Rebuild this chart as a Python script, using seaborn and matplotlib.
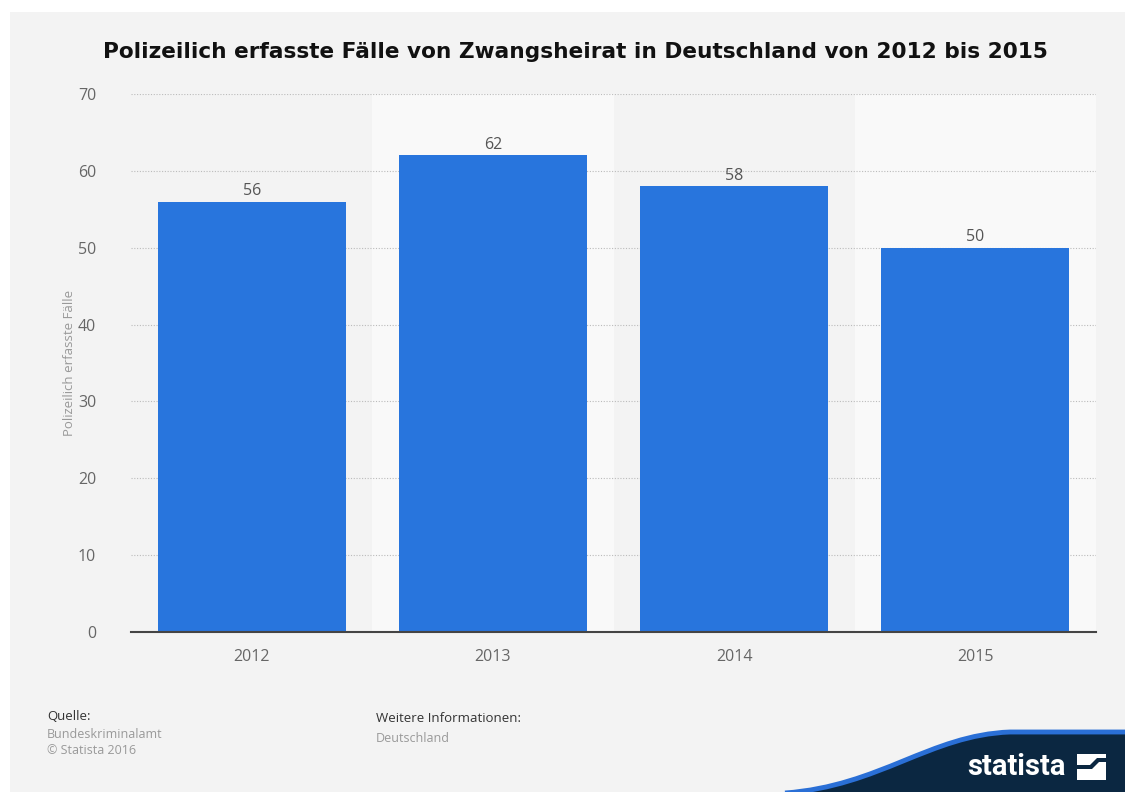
import numpy as np
import pandas as pd
import matplotlib.pyplot as plt
import seaborn as sns
from matplotlib.patches import Rectangle, PathPatch, Polygon
from matplotlib.path import Path

# Data
years = ["2012", "2013", "2014", "2015"]
cases = [56, 62, 58, 50]
y_ticks = [0, 10, 20, 30, 40, 50, 60, 70]

df = pd.DataFrame({"Jahr": years, "Faelle": cases})

W, H = 1125, 792
sns.set_style("white")
plt.rcParams["font.family"] = ["Open Sans", "DejaVu Sans"]

fig = plt.figure(figsize=(W / 100, H / 100), dpi=100, facecolor="white")

# gray canvas behind the chart
fig.patches.append(Rectangle((10 / W, 0), 1, 1 - 12 / H, transform=fig.transFigure,
                             facecolor="#f3f3f3", edgecolor="none", zorder=-1))

ax = fig.add_axes([131 / W, 1 - 632 / H, (1096 - 131) / W, (632 - 94) / H])
ax.set_zorder(1)
ax.set_facecolor("none")

# alternating column bands
for i in range(len(years)):
    ax.axvspan(i - 0.5, i + 0.5, color="#f3f3f3" if i % 2 == 0 else "#f9f9f9",
               zorder=0, lw=0)

sns.barplot(data=df, x="Jahr", y="Faelle", color="#2875dd", width=0.78,
            saturation=1, linewidth=0, ax=ax, zorder=3)

for i, v in enumerate(cases):
    ax.text(i, v + 0.35, str(v), ha="center", va="bottom", fontsize=11.5,
            color="#555555", zorder=4)

ax.set_xlim(-0.5, len(years) - 0.5)
ax.set_ylim(0, 70)
ax.set_yticks(y_ticks)
ax.yaxis.grid(True, linestyle=(0, (1, 1.5)), color="#bbbbbb", linewidth=0.8, zorder=1)
ax.set_axisbelow(False)
for sp in ["top", "right", "left"]:
    ax.spines[sp].set_visible(False)
ax.spines["bottom"].set_color("#444444")
ax.spines["bottom"].set_linewidth(1.5)
ax.spines["bottom"].set_zorder(5)
ax.tick_params(axis="both", length=0, labelsize=11.5, labelcolor="#666666")
ax.tick_params(axis="y", pad=25)
ax.tick_params(axis="x", pad=12)
ax.set_xlabel("")
ax.set_ylabel("Polizeilich erfasste Fälle", fontsize=9.5, color="#999999")
ax.yaxis.set_label_coords(-0.057, 0.5)

fig.text(575 / W, 1 - 52 / H,
         "Polizeilich erfasste Fälle von Zwangsheirat in Deutschland von 2012 bis 2015",
         ha="center", va="center", fontsize=15.6, fontweight="bold",
         color="#111111", family="DejaVu Sans")

# footer
fig.text(47 / W, 1 - 717 / H, "Quelle:", fontsize=9.5, color="#333333", va="center")
fig.text(47 / W, 1 - 734 / H, "Bundeskriminalamt", fontsize=9, color="#999999", va="center")
fig.text(47 / W, 1 - 751 / H, "© Statista 2016", fontsize=9, color="#999999", va="center")
fig.text(376 / W, 1 - 719 / H, "Weitere Informationen:", fontsize=9.5, color="#333333", va="center")
fig.text(376 / W, 1 - 739 / H, "Deutschland", fontsize=9, color="#999999", va="center")

# statista logo wave
def fx(x):
    return x / W

def fy(y):
    return 1 - y / H

curve = [(fx(785), fy(793)), (fx(880), fy(786)), (fx(930), fy(735)), (fx(1010), fy(732)),
         (fx(1130), fy(732))]
ccodes = [Path.MOVETO, Path.CURVE4, Path.CURVE4, Path.CURVE4, Path.LINETO]
fill = curve + [(fx(1130), fy(795)), (fx(785), fy(795)), (fx(785), fy(795))]
fcodes = ccodes + [Path.LINETO, Path.LINETO, Path.CLOSEPOLY]
fig.patches.append(PathPatch(Path(fill, fcodes), transform=fig.transFigure,
                             facecolor="#0b2741", edgecolor="none", zorder=2))
fig.patches.append(PathPatch(Path(curve, ccodes), transform=fig.transFigure,
                             facecolor="none", edgecolor="#2a6fd6", linewidth=3.5, zorder=3))
fig.text(fx(1016), fy(767), "statista", ha="center", va="center", fontsize=21,
         fontweight="bold", color="white", family="Roboto", zorder=5)
fig.patches.append(Rectangle((fx(1077), fy(780)), 29 / W, 26 / H, transform=fig.transFigure,
                             facecolor="white", edgecolor="none", zorder=5))
fig.patches.append(Polygon([(fx(1077), fy(765)), (fx(1090), fy(765)), (fx(1097), fy(758)),
                            (fx(1106), fy(758)), (fx(1106), fy(762)), (fx(1099), fy(762)),
                            (fx(1092), fy(769)), (fx(1077), fy(769))],
                           closed=True, transform=fig.transFigure,
                           facecolor="#0b2741", edgecolor="none", zorder=6))

fig.savefig("out.png", dpi=100, facecolor="white")
